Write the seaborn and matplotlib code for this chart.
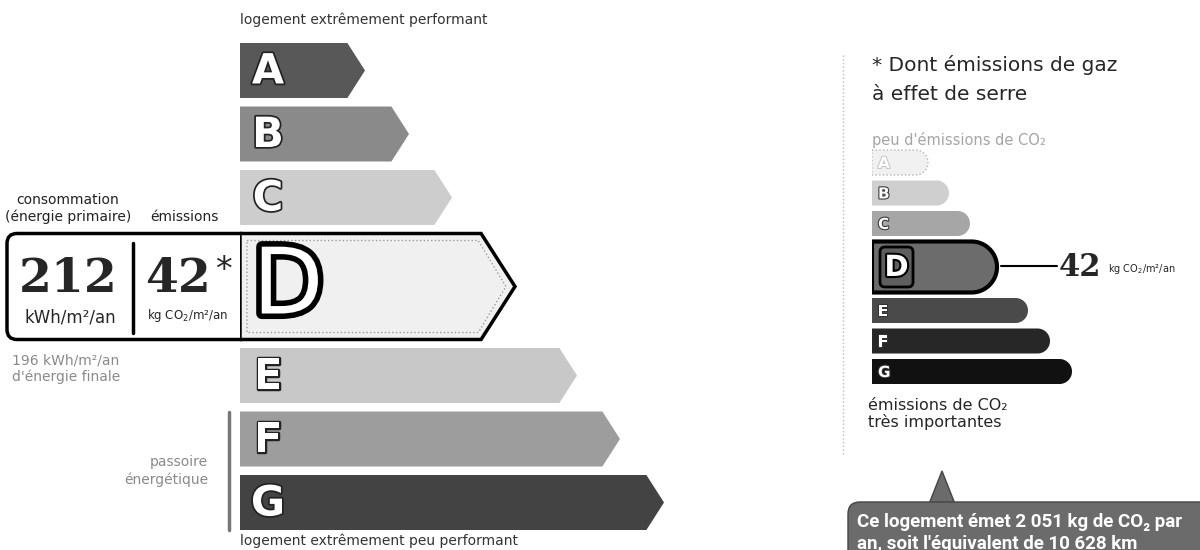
import matplotlib
matplotlib.use("Agg")
import matplotlib.pyplot as plt
import matplotlib.patheffects as pe
from matplotlib.patches import Polygon, FancyBboxPatch
import numpy as np
import pandas as pd
import seaborn as sns

# étiquette DPE
classes = ["A", "B", "C", "D", "E", "F", "G"]
energy_arrow_len = [125, 169, 212, 275, 337, 380, 424]   # longueur des flèches énergie
ges_bar_len = [56, 77, 98, 125, 156, 178, 200]           # longueur des barres GES
current_class = "D"

consumption = 212      # kWh/m²/an énergie primaire
emissions = 42         # kg CO2/m²/an
final_energy = 196     # kWh/m²/an énergie finale
co2_per_year = 2051    # kg CO2 / an
km_equiv = 10628       # km en voiture

energy_colors = ["#585858", "#8a8a8a", "#cdcdcd", "#f0f0f0", "#c8c8c8", "#9d9d9d", "#434343"]
ges_colors = ["#f1f1f1", "#cfcfcf", "#a6a6a6", "#6c6c6c", "#4a4a4a", "#272727", "#111111"]


def rows(top, h, big, gap):
    centers, heights = [], []
    y = top
    for c in classes:
        hh = big if c == current_class else h
        centers.append(y + hh / 2)
        heights.append(hh)
        y += hh + gap
    return np.array(centers), np.array(heights)


def fr(n):
    return f"{n:,}".replace(",", " ")


yc_e, h_e = rows(43, 55, 106, 8.5)
yc_g, h_g = rows(150, 25, 51, 5.5)
i_cur = classes.index(current_class)

sns.set_theme(style="white")
plt.rcParams["font.family"] = ["DejaVu Sans"]

fig = plt.figure(figsize=(12, 5.5), dpi=100)
ax = fig.add_axes([0, 0, 1, 1], zorder=0)
ax.set_xlim(0, 1200)
ax.set_ylim(550, 0)
ax.axis("off")

x_l0, x_r0 = 240, 872
ax_l = fig.add_axes([x_l0 / 1200, 0, (1200 - x_l0) / 1200, 1], zorder=1)
ax_r = fig.add_axes([x_r0 / 1200, 0, (1200 - x_r0) / 1200, 1], zorder=1)

df_e = pd.DataFrame({"classe": classes, "longueur": energy_arrow_len, "y": yc_e})
df_g = pd.DataFrame({"classe": classes, "longueur": ges_bar_len, "y": yc_g})
sns.barplot(data=df_e, x="longueur", y="y", orient="h", native_scale=True,
            color="gray", errorbar=None, ax=ax_l)
sns.barplot(data=df_g, x="longueur", y="y", orient="h", native_scale=True,
            color="gray", errorbar=None, ax=ax_r)

for a, w in [(ax_l, 1200 - x_l0), (ax_r, 1200 - x_r0)]:
    a.set_xlim(0, w)
    a.set_ylim(550, 0)
    a.axis("off")

# --- flèches énergie ---
outline = [pe.withStroke(linewidth=2.5, foreground="#222222")]
for p in list(ax_l.patches):
    yc = p.get_y() + p.get_height() / 2
    i = int(np.argmin(np.abs(yc_e - yc)))
    x0, tip = p.get_x(), p.get_x() + p.get_width()
    h = h_e[i]
    d = 0.32 * h
    top, bot = yc - h / 2, yc + h / 2
    p.remove()
    verts = [(x0, top), (tip - d, top), (tip, yc), (tip - d, bot), (x0, bot)]
    if i == i_cur:
        ax_l.add_patch(Polygon(verts, closed=True, fc=energy_colors[i], ec="black",
                               lw=2.5, joinstyle="miter", zorder=2))
        k = 7
        inner = [(x0 + k, top + k), (tip - d - k * 0.4, top + k), (tip - k * 1.3, yc),
                 (tip - d - k * 0.4, bot - k), (x0 + k, bot - k)]
        ax_l.add_patch(Polygon(inner, closed=True, fill=False, ec="#9a9a9a",
                               lw=1, ls=":", zorder=3))
        ax_l.text(x0 + 48, yc + 1, classes[i], fontsize=66, color="white",
                  ha="center", va="center", zorder=4,
                  path_effects=[pe.withStroke(linewidth=8, foreground="black")])
    else:
        ax_l.add_patch(Polygon(verts, closed=True, fc=energy_colors[i], ec="none", zorder=2))
        ax_l.text(x0 + 28, yc + 1, classes[i], fontsize=30, fontweight="bold",
                  color="white", ha="center", va="center", zorder=3, path_effects=outline)

# --- barres GES ---
for p in list(ax_r.patches):
    yc = p.get_y() + p.get_height() / 2
    i = int(np.argmin(np.abs(yc_g - yc)))
    x0, tip = p.get_x(), p.get_x() + p.get_width()
    h = h_g[i]
    r = h / 2
    p.remove()
    th = np.linspace(-np.pi / 2, np.pi / 2, 40)
    arc = np.column_stack([tip - r + r * np.cos(th), yc + r * np.sin(th)])
    verts = np.vstack([[x0, yc - r], arc, [x0, yc + r]])
    if i == i_cur:
        ax_r.add_patch(Polygon(verts, closed=True, fc=ges_colors[i], ec="black", lw=3, zorder=2))
        ax_r.add_patch(FancyBboxPatch((x0 + 8, yc - 20), 33, 40,
                                      boxstyle="round,pad=0,rounding_size=5",
                                      fc="#5e5e5e", ec="black", lw=2, zorder=3))
        ax_r.text(x0 + 24.5, yc + 1, classes[i], fontsize=21, fontweight="bold",
                  color="white", ha="center", va="center", zorder=4,
                  path_effects=[pe.withStroke(linewidth=3, foreground="black")])
        # repère valeur
        ax_r.plot([tip + 4, tip + 60], [yc - 1, yc - 1], color="black", lw=1.5, zorder=2)
        ax_r.text(tip + 62, yc, f"{emissions}", fontsize=22, fontweight="bold",
                  family="DejaVu Serif", ha="left", va="center", zorder=3)
        ax_r.text(tip + 111, yc + 2, "kg CO$_2$/m²/an", fontsize=7, ha="left",
                  va="center", zorder=3)
    elif i == 0:
        ax_r.add_patch(Polygon(verts, closed=True, fc=ges_colors[i], ec="#b5b5b5",
                               lw=1, ls=":", zorder=2))
        ax_r.text(x0 + 6, yc + 1, classes[i], fontsize=11, fontweight="bold", color="white",
                  ha="left", va="center", zorder=3,
                  path_effects=[pe.withStroke(linewidth=1.5, foreground="#c8c8c8")])
    else:
        ax_r.add_patch(Polygon(verts, closed=True, fc=ges_colors[i], ec="none", zorder=2))
        ax_r.text(x0 + 6, yc + 1, classes[i], fontsize=11, fontweight="bold", color="white",
                  ha="left", va="center", zorder=3,
                  path_effects=[pe.withStroke(linewidth=1.5, foreground="#333333")])

# --- textes et cadre à gauche ---
ax.text(x_l0, 20, "logement extrêmement performant", fontsize=10, color="#333333",
        ha="left", va="center")
ax.text(x_l0, 541, "logement extrêmement peu performant", fontsize=10, color="#333333",
        ha="left", va="center")

top_d, bot_d = yc_e[i_cur] - h_e[i_cur] / 2, yc_e[i_cur] + h_e[i_cur] / 2
ax.add_patch(FancyBboxPatch((7, top_d), x_l0 + 10 - 7, bot_d - top_d,
                            boxstyle="round,pad=0,rounding_size=10",
                            fc="white", ec="black", lw=2.5, zorder=1))
ax.plot([133, 133], [top_d + 9, bot_d - 7], color="black", lw=2.5, zorder=2)

ax.text(68, 200, "consommation", fontsize=10, ha="center", va="center", color="#222222")
ax.text(68, 217, "(énergie primaire)", fontsize=10, ha="center", va="center", color="#222222")
ax.text(184, 217, "émissions", fontsize=10, ha="center", va="center", color="#222222")

ax.text(68, 279, f"{consumption}", fontsize=34, fontweight="bold", family="DejaVu Serif",
        ha="center", va="center", zorder=3)
ax.text(70, 317, "kWh/m²/an", fontsize=12, ha="center", va="center", zorder=3)
ax.text(178, 279, f"{emissions}", fontsize=34, fontweight="bold", family="DejaVu Serif",
        ha="center", va="center", zorder=3)
ax.text(223, 270, "*", fontsize=24, ha="center", va="center", zorder=3)
ax.text(187, 316, "kg CO$_2$/m²/an", fontsize=8.5, ha="center", va="center", zorder=3)

ax.text(66, 360, f"{final_energy} kWh/m²/an", fontsize=10, color="#8a8a8a",
        ha="center", va="center")
ax.text(66, 377, "d'énergie finale", fontsize=10, color="#8a8a8a", ha="center", va="center")

# passoire énergétique (F et G)
i_f, i_g = classes.index("F"), classes.index("G")
y_a, y_b = yc_e[i_f] - h_e[i_f] / 2, yc_e[i_g] + h_e[i_g] / 2
ax.plot([229, 229], [y_a, y_b], color="#777777", lw=2.5)
ax.text(208, (y_a + y_b) / 2 - 9, "passoire", fontsize=10, color="#8a8a8a", ha="right", va="center")
ax.text(208, (y_a + y_b) / 2 + 9, "énergétique", fontsize=10, color="#8a8a8a", ha="right", va="center")

# --- panneau GES à droite ---
ax.plot([843, 843], [55, 455], color="#bbbbbb", lw=1, ls=":")
ax.text(x_r0, 65, "* Dont émissions de gaz", fontsize=14.5, ha="left", va="center")
ax.text(x_r0, 95, "à effet de serre", fontsize=14.5, ha="left", va="center")
ax.text(x_r0, 140, "peu d'émissions de CO₂", fontsize=10.5, color="#a5a5a5",
        ha="left", va="center")
ax.text(868, 405, "émissions de CO₂", fontsize=11.5, ha="left", va="center")
ax.text(868, 422, "très importantes", fontsize=11.5, ha="left", va="center")

# bulle
bubble = "#6b6b6b"
ax.add_patch(Polygon([(929, 504), (942, 471), (955, 504)], closed=True, fc=bubble,
                     ec="#444444", lw=1))
ax.add_patch(FancyBboxPatch((848, 502), 420, 90, boxstyle="round,pad=0,rounding_size=12",
                            fc=bubble, ec="#444444", lw=1))
ax.text(857, 522, f"Ce logement émet {fr(co2_per_year)} kg de CO₂ par", fontsize=13.5,
        fontweight="bold", color="white", family=["Roboto", "DejaVu Sans"],
        ha="left", va="center")
ax.text(857, 544, f"an, soit l'équivalent de {fr(km_equiv)} km", fontsize=13.5,
        fontweight="bold", color="white", family=["Roboto", "DejaVu Sans"],
        ha="left", va="center")

fig.savefig("out.png", dpi=100)
